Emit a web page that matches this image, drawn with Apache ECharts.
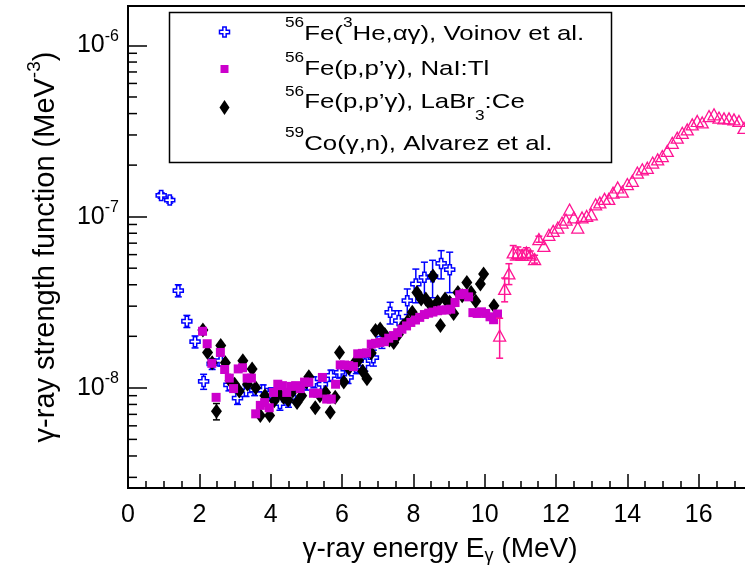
<!DOCTYPE html>
<html>
<head>
<meta charset="utf-8">
<script src="https://cdn.jsdelivr.net/npm/echarts@6/dist/echarts.min.js"></script>
<style>
  html, body { margin: 0; padding: 0; background: #fff; }
  #chart { width: 745px; height: 570px; }
</style>
</head>
<body>
<div id="chart"></div>
<script>
// 56Fe(3He,a g), Voinov et al. — energy (MeV), strength (MeV^-3), error
const voinovE = [0.93, 1.17, 1.41, 1.65, 1.88, 2.12, 2.36, 2.60, 2.83, 3.07, 3.31, 3.55, 3.79, 4.02, 4.26, 4.50, 4.74, 4.98, 5.21, 5.45, 5.69, 5.93, 6.17, 6.40, 6.64, 6.88, 7.12, 7.35, 7.59, 7.83, 8.07, 8.31, 8.54, 8.78, 9.02]
const voinovS = [1.33e-7, 1.25e-7, 3.7e-8, 2.45e-8, 1.86e-8, 1.09e-8, 1.38e-8, 1.44e-8, 1.04e-8, 8.7e-9, 9.6e-9, 9.7e-9, 9.7e-9, 9.3e-9, 8.1e-9, 8.4e-9, 9.3e-9, 1.05e-8, 1.08e-8, 1.05e-8, 1.18e-8, 1.23e-8, 1.15e-8, 1.32e-8, 1.38e-8, 1.5e-8, 1.95e-8, 2.76e-8, 2.47e-8, 3.23e-8, 4.04e-8, 4.42e-8, 4.46e-8, 5.33e-8, 4.9e-8]
const voinovErr = [5e-9, 5e-9, 3e-9, 2e-9, 1.5e-9, 1.1e-9, 1.0e-9, 1.0e-9, 0.8e-9, 0.7e-9, 0.7e-9, 0.7e-9, 0.7e-9, 0.7e-9, 0.7e-9, 0.7e-9, 0.7e-9, 0.8e-9, 0.8e-9, 0.8e-9, 0.9e-9, 0.9e-9, 0.9e-9, 1.1e-9, 1.3e-9, 1.6e-9, 2.5e-9, 4e-9, 3.5e-9, 5.5e-9, 9e-9, 1.0e-8, 1.1e-8, 1.0e-8, 1.3e-8]

// 56Fe(p,p'g), NaI:Tl
const naiE = [2.09, 2.22, 2.35, 2.47, 2.59, 2.71, 2.84, 2.96, 3.09, 3.21, 3.34, 3.46, 3.58, 3.71, 3.83, 3.96, 4.08, 4.20, 4.33, 4.45, 4.58, 4.70, 4.83, 4.95, 5.07, 5.20, 5.32, 5.45, 5.57, 5.70, 5.82, 5.95, 6.07, 6.19, 6.32, 6.44, 6.57, 6.69, 6.82, 6.94, 7.06, 7.19, 7.31, 7.44, 7.56, 7.68, 7.81, 7.93, 8.06, 8.18, 8.31, 8.43, 8.55, 8.68, 8.80, 8.93, 9.05, 9.17, 9.30, 9.42, 9.55, 9.67, 9.79, 9.91, 10.03, 10.15, 10.25, 10.36]
const naiS = [2.14e-8, 1.81e-8, 1.39e-8, 8.8e-9, 1.61e-8, 1.28e-8, 1.14e-8, 9.9e-9, 1.29e-8, 1.31e-8, 1.14e-8, 1.14e-8, 7.05e-9, 7.9e-9, 8.2e-9, 7.65e-9, 9.4e-9, 1.05e-8, 1.03e-8, 9.4e-9, 1.02e-8, 1.03e-8, 9.9e-9, 1.08e-8, 1.08e-8, 9.3e-9, 9.3e-9, 1.15e-8, 8.6e-9, 8.6e-9, 1.05e-8, 1.36e-8, 1.36e-8, 1.35e-8, 1.33e-8, 1.58e-8, 1.59e-8, 1.60e-8, 1.80e-8, 1.82e-8, 1.84e-8, 1.86e-8, 1.95e-8, 2.02e-8, 2.10e-8, 2.20e-8, 2.30e-8, 2.41e-8, 2.49e-8, 2.58e-8, 2.68e-8, 2.73e-8, 2.77e-8, 2.82e-8, 2.85e-8, 2.85e-8, 2.88e-8, 3.15e-8, 3.50e-8, 3.56e-8, 3.40e-8, 2.75e-8, 2.72e-8, 2.78e-8, 2.72e-8, 2.60e-8, 2.50e-8, 2.70e-8]

// 56Fe(p,p'g), LaBr3:Ce
const labrE = [2.10, 2.23, 2.36, 2.48, 2.60, 2.73, 2.86, 2.99, 3.12, 3.22, 3.35, 3.48, 3.58, 3.71, 3.84, 3.97, 4.10, 4.23, 4.36, 4.49, 4.62, 4.74, 4.87, 5.00, 5.07, 5.25, 5.38, 5.54, 5.67, 5.81, 5.93, 6.05, 6.19, 6.33, 6.46, 6.58, 6.70, 6.82, 6.94, 7.07, 7.20, 7.33, 7.45, 7.58, 7.71, 7.84, 7.97, 8.10, 8.22, 8.35, 8.48, 8.55, 8.68, 8.76, 8.89, 9.02, 9.13, 9.25, 9.37, 9.50, 9.62, 9.75, 9.88, 9.97, 10.26]
const labrS = [2.18e-8, 1.61e-8, 1.40e-8, 7.3e-9, 1.77e-8, 1.40e-8, 1.10e-8, 1.05e-8, 9.6e-9, 1.44e-8, 1.05e-8, 1.29e-8, 1.00e-8, 6.9e-9, 9.0e-9, 6.9e-9, 8.4e-9, 9.3e-9, 8.8e-9, 8.5e-9, 9.6e-9, 8.2e-9, 9.0e-9, 1.08e-8, 1.16e-8, 7.65e-9, 9.0e-9, 9.4e-9, 7.2e-9, 8.8e-9, 1.61e-8, 1.08e-8, 1.30e-8, 1.38e-8, 1.45e-8, 1.25e-8, 1.13e-8, 1.60e-8, 2.16e-8, 2.21e-8, 2.05e-8, 1.90e-8, 1.84e-8, 2.05e-8, 2.30e-8, 2.45e-8, 2.76e-8, 3.61e-8, 3.30e-8, 3.30e-8, 3.05e-8, 4.50e-8, 3.18e-8, 2.31e-8, 3.30e-8, 3.16e-8, 2.72e-8, 3.61e-8, 3.45e-8, 4.13e-8, 3.60e-8, 3.20e-8, 4.04e-8, 4.62e-8, 3.02e-8]
const labrErr = [0, 0, 0, 8e-10, 0, 0, 0, 0, 0, 0, 0, 0, 0, 0, 0, 0, 0, 0, 0, 0, 0, 0, 0, 0, 0, 0, 0, 0, 0, 0, 0, 0, 0, 0, 0, 0, 0, 0, 0, 0, 0, 0, 0, 0, 0, 0, 0, 0, 0, 0, 0, 0, 0, 0, 0, 0, 0, 0, 0, 0, 0, 0, 0, 0, 0]

// 59Co(g,n), Alvarez et al.
const alvarezE = [10.42, 10.56, 10.68, 10.80, 10.93, 11.05, 11.17, 11.28, 11.40, 11.52, 11.66, 11.80, 11.92, 12.05, 12.17, 12.28, 12.38, 12.50, 12.61, 12.73, 12.86, 12.99, 13.11, 13.23, 13.36, 13.48, 13.60, 13.73, 13.86, 14.00, 14.14, 14.28, 14.42, 14.56, 14.71, 14.85, 14.98, 15.12, 15.26, 15.40, 15.54, 15.68, 15.82, 15.96, 16.10, 16.29, 16.43, 16.57, 16.71, 16.85, 16.99, 17.13, 17.27]
const alvarezS = [2.02e-8, 3.78e-8, 4.66e-8, 6.18e-8, 6.15e-8, 5.98e-8, 6.18e-8, 6.0e-8, 5.65e-8, 7.39e-8, 6.75e-8, 7.83e-8, 8.26e-8, 8.64e-8, 9.24e-8, 9.6e-8, 1.10e-7, 9.9e-8, 8.64e-8, 9.89e-8, 1.01e-7, 1.03e-7, 1.18e-7, 1.21e-7, 1.27e-7, 1.27e-7, 1.38e-7, 1.48e-7, 1.40e-7, 1.55e-7, 1.62e-7, 1.81e-7, 1.89e-7, 1.93e-7, 2.07e-7, 2.16e-7, 2.26e-7, 2.42e-7, 2.70e-7, 2.89e-7, 3.09e-7, 3.23e-7, 3.46e-7, 3.62e-7, 3.55e-7, 3.87e-7, 3.96e-7, 3.79e-7, 3.75e-7, 3.75e-7, 3.70e-7, 3.62e-7, 3.30e-7]
const alvarezErr = [5.3e-9, 6e-9, 6.5e-9, 6e-9, 5e-9, 4e-9, 4e-9, 3e-9, 3e-9, 3e-9, 0, 0, 0, 0, 0, 0, 0, 0, 0, 0, 0, 0, 0, 0, 0, 0, 0, 0, 0, 0, 0, 0, 0, 0, 0, 0, 0, 0, 0, 0, 0, 0, 0, 0, 0, 0, 0, 0, 0, 0, 0, 0, 0]

// axis ranges
const xMin = 0, xMax = 18, xStep = 2
const yMin = 2.6e-9, yMax = 1.7e-6

const FONT = '"Liberation Sans", Arial, Helvetica, sans-serif'
const BLUE = '#0000ff'
const MAGENTA = '#cc00cc'
const PINK = '#ff1493'

// log minor ticks (2..9 x 10^n) drawn through the y scale
const yMinor = []
for (let p = -9; p <= -6; p++) {
  for (let k = 2; k <= 9; k++) {
    const v = k * Math.pow(10, p)
    if (v > yMin && v < yMax) yMinor.push(v)
  }
}

const zip = (xs, ys, es) => xs.map((x, i) => es ? [x, ys[i], es[i]] : [x, ys[i]])

function errorBar(color) {
  return (params, api) => {
    const err = api.value(2)
    if (!err) return
    const x = api.value(0), y = api.value(1)
    const lo = api.coord([x, y - err])
    const hi = api.coord([x, y + err])
    const style = { stroke: color, lineWidth: 1.5 }
    return {
      type: 'group',
      children: [
        { type: 'line', shape: { x1: lo[0], y1: lo[1], x2: hi[0], y2: hi[1] }, style },
        { type: 'line', shape: { x1: lo[0] - 3.5, y1: lo[1], x2: lo[0] + 3.5, y2: lo[1] }, style },
        { type: 'line', shape: { x1: hi[0] - 3.5, y1: hi[1], x2: hi[0] + 3.5, y2: hi[1] }, style }
      ]
    }
  }
}

const crossPath = 'path://M3,0H6V3H9V6H6V9H3V6H0V3H3Z'

function crossPoints(cx, cy, s) {
  const a = s / 2, b = s / 6
  return [[cx - b, cy - a], [cx + b, cy - a], [cx + b, cy - b], [cx + a, cy - b], [cx + a, cy + b], [cx + b, cy + b],
    [cx + b, cy + a], [cx - b, cy + a], [cx - b, cy + b], [cx - a, cy + b], [cx - a, cy - b], [cx - b, cy - b]]
}

// legend text is set a little wide, like the original
const legendRich = {
  sup: { fontSize: 14, fontFamily: FONT, color: '#000', lineHeight: 14, padding: [0, 0, 21, 0] },
  sub: { fontSize: 14, fontFamily: FONT, color: '#000', lineHeight: 14, padding: [27, 0, 0, 0] }
}
const legendText = (y, text) => ({
  type: 'text', x: 285, y, z: 101, scaleX: 1.23,
  style: { text, rich: legendRich, fontSize: 21, fontFamily: FONT, fill: '#000', align: 'left', verticalAlign: 'middle' }
})

const chart = echarts.init(document.getElementById('chart'), null, { renderer: 'canvas' })

const option = {
  animation: false,
  backgroundColor: '#fff',
  textStyle: { fontFamily: FONT },
  grid: {
    left: 128, top: 6, right: -25, bottom: 82,
    show: true, borderColor: '#000', borderWidth: 2,
    outerBoundsMode: 'none'
  },
  xAxis: {
    type: 'value',
    min: xMin, max: xMax, interval: xStep,
    axisLine: { lineStyle: { color: '#000', width: 2 } },
    axisTick: { inside: true, length: 14, lineStyle: { color: '#000', width: 1.5 } },
    minorTick: { show: true, splitNumber: 4, length: 7, lineStyle: { color: '#000', width: 1.5 } },
    splitLine: { show: false },
    axisLabel: { color: '#000', fontSize: 25, fontFamily: FONT, margin: 15 },
    name: 'γ-ray energy E{sub|γ} (MeV)',
    nameLocation: 'middle',
    nameGap: 43,
    nameTextStyle: {
      color: '#000', fontSize: 28, fontFamily: FONT, padding: [0, 18, 0, 0],
      rich: { sub: { fontSize: 18, fontFamily: FONT, color: '#000', lineHeight: 18, padding: [14, 0, 0, 0] } }
    }
  },
  yAxis: {
    type: 'log',
    logBase: 10,
    min: yMin, max: yMax,
    axisLine: { lineStyle: { color: '#000', width: 2 } },
    axisTick: { inside: true, length: 19, lineStyle: { color: '#000', width: 1.5 } },
    splitLine: { show: false },
    axisLabel: {
      margin: 9,
      showMinLabel: false,
      showMaxLabel: false,
      formatter: v => '{b|10}{s|' + Math.round(Math.log10(v)) + '}',
      rich: {
        b: { fontSize: 25, fontFamily: FONT, color: '#000', lineHeight: 26 },
        s: { fontSize: 16, fontFamily: FONT, color: '#000', lineHeight: 16, padding: [0, 0, 18, 0] }
      }
    },
    name: 'γ-ray strength function (MeV{sup|-3})',
    nameLocation: 'middle',
    nameGap: 67,
    nameRotate: 90,
    nameTextStyle: {
      color: '#000', fontSize: 29, fontFamily: FONT,
      rich: { sup: { fontSize: 19, fontFamily: FONT, color: '#000', lineHeight: 19, padding: [0, 0, 22, 0] } }
    }
  },
  series: [
    {
      type: 'custom', name: 'voinovErr', silent: true, z: 2,
      data: zip(voinovE, voinovS, voinovErr),
      renderItem: errorBar(BLUE)
    },
    {
      type: 'scatter', name: 'Voinov', silent: true, z: 3,
      data: zip(voinovE, voinovS),
      symbol: crossPath, symbolSize: 10,
      itemStyle: { color: '#fff', borderColor: BLUE, borderWidth: 1.5, opacity: 1 }
    },
    {
      type: 'custom', name: 'labrErr', silent: true, z: 4,
      data: zip(labrE, labrS, labrErr),
      renderItem: errorBar('#000')
    },
    {
      type: 'scatter', name: 'LaBr3', silent: true, z: 5,
      data: zip(labrE, labrS),
      symbol: 'diamond', symbolSize: [11, 15],
      itemStyle: { color: '#000', opacity: 1 }
    },
    {
      type: 'scatter', name: 'NaI', silent: true, z: 6,
      data: zip(naiE, naiS),
      symbol: 'rect', symbolSize: 9,
      itemStyle: { color: MAGENTA, opacity: 1 }
    },
    {
      type: 'custom', name: 'alvarezErr', silent: true, z: 7,
      data: zip(alvarezE, alvarezS, alvarezErr),
      renderItem: errorBar(PINK)
    },
    {
      type: 'scatter', name: 'Alvarez', silent: true, z: 8,
      data: zip(alvarezE, alvarezS),
      symbol: 'triangle', symbolSize: [12, 11],
      itemStyle: { color: 'rgba(255,255,255,0)', borderColor: PINK, borderWidth: 1.3, opacity: 1 }
    },
    {
      // minor ticks on the log axis
      type: 'custom', name: 'yMinor', silent: true, z: 9, clip: false,
      data: yMinor.map(v => [xMin, v]),
      renderItem: (params, api) => {
        const p = api.coord([api.value(0), api.value(1)])
        return { type: 'line', shape: { x1: p[0], y1: p[1], x2: p[0] + 9, y2: p[1] }, style: { stroke: '#000', lineWidth: 1.5 } }
      }
    }
  ],
  graphic: [
    {
      type: 'rect', z: 100,
      shape: { x: 169.5, y: 12.5, width: 442, height: 150 },
      style: { fill: '#fff', stroke: '#000', lineWidth: 1.5 }
    },
    { type: 'polygon', z: 101, shape: { points: crossPoints(224.5, 32, 10) }, style: { fill: '#fff', stroke: BLUE, lineWidth: 1.5 } },
    { type: 'rect', z: 101, shape: { x: 220.5, y: 65, width: 8, height: 8 }, style: { fill: MAGENTA } },
    { type: 'polygon', z: 101, shape: { points: [[224.5, 100], [229.5, 107.5], [224.5, 115], [219.5, 107.5]] }, style: { fill: '#000' } },
    legendText(34, '{sup|56}Fe({sup|3}He,αγ), Voinov et al.'),
    legendText(69, '{sup|56}Fe(p,p’γ), NaI:Tl'),
    legendText(102.5, '{sup|56}Fe(p,p’γ), LaBr{sub|3}:Ce'),
    legendText(144, '{sup|59}Co(γ,n), Alvarez et al.')
  ]
}

chart.setOption(option)
</script>
</body>
</html>
